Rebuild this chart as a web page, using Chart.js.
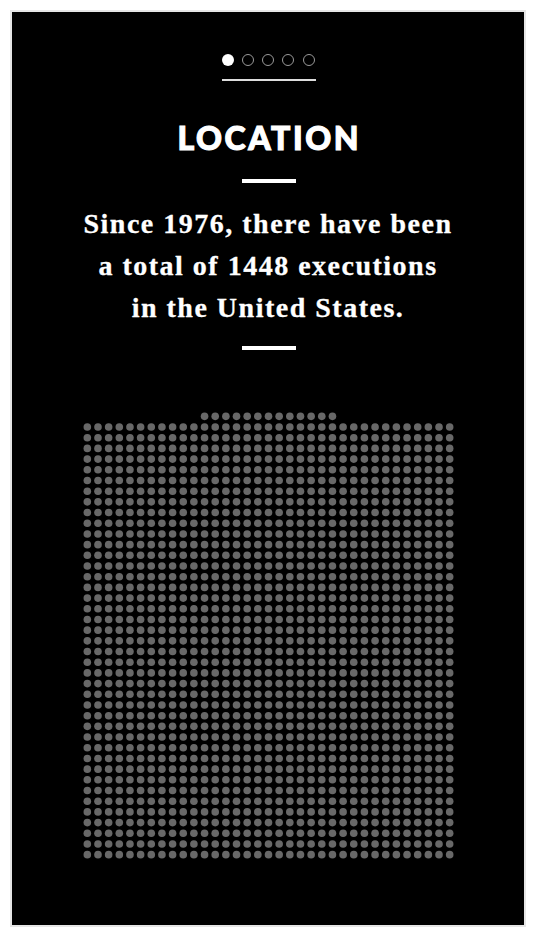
<!DOCTYPE html>
<html>
<head>
<meta charset="utf-8">
<script src="https://cdn.jsdelivr.net/npm/chart.js@4/dist/chart.umd.min.js"></script>
<style>
  html, body { margin: 0; padding: 0; background: #fff; width: 536px; height: 938px; overflow: hidden; }
  #panel { position: absolute; left: 10px; top: 10px; width: 512px; height: 913px; background: #000; border: 2px solid #e6e6e6; }
  .pager { position: absolute; top: 54px; left: 0; width: 536px; height: 12px; }
  .pd { position: absolute; top: 0; width: 12px; height: 12px; border-radius: 50%; box-sizing: border-box; }
  .pd.on { background: #fff; }
  .pd.off { border: 1.5px solid #9a9a9a; }
  .uline { position: absolute; left: 222px; top: 79px; width: 94px; height: 1.5px; background: #ddd; }
  .title { position: absolute; left: 0; width: 536px; top: 113px; text-align: center; color: #fff;
           font-family: Lato, "Open Sans", sans-serif; font-weight: 900; font-size: 32px; letter-spacing: 2.6px; text-indent: 2.6px; line-height: 50px;
           -webkit-text-stroke: 1.1px #fff; }
  .rule { position: absolute; left: 242px; width: 54px; height: 4px; background: #fff; }
  .lede { position: absolute; left: 0; width: 536px; top: 203px; text-align: center; color: #fff;
          font-family: "Liberation Serif", "DejaVu Serif", serif; font-weight: bold; font-size: 28px; letter-spacing: 1.5px; line-height: 42px;
          -webkit-text-stroke: 0.3px #fff; }
  #wrap { position: absolute; left: 82px; top: 411px; width: 373px; height: 449px; }
</style>
</head>
<body>
<div id="panel"></div>
<div class="pager">
  <div class="pd on" style="left:222px"></div>
  <div class="pd off" style="left:242px"></div>
  <div class="pd off" style="left:262px"></div>
  <div class="pd off" style="left:282px"></div>
  <div class="pd off" style="left:303px"></div>
</div>
<div class="uline"></div>
<div class="title">LOCATION</div>
<div class="rule" style="top:179px"></div>
<div class="lede">Since 1976, there have been<br>a total of 1448 executions<br>in the United States.</div>
<div class="rule" style="top:346px"></div>
<div id="wrap"><canvas id="c" width="373" height="449"></canvas></div>
<script>
// Data: one dot per execution since 1976
const categories = ["Executions"];
const executionTotals = [1448];
const dotsPerRow = [35];

// Build unit-chart points: full rows from the bottom, remainder centred on top
const total = executionTotals[0];
const cols = dotsPerRow[0];
const fullRows = Math.floor(total / cols);
const remainder = total - fullRows * cols;
const rows = fullRows + (remainder > 0 ? 1 : 0);
const points = [];
for (let r = 0; r < fullRows; r++) {
  for (let c = 0; c < cols; c++) points.push({ x: c, y: rows - 1 - r });
}
const start = Math.floor((cols - remainder) / 2);
for (let c = 0; c < remainder; c++) points.push({ x: start + c, y: 0 });

new Chart(document.getElementById('c'), {
  type: 'scatter',
  data: {
    datasets: [{
      label: categories[0],
      data: points,
      pointRadius: 3.8,
      pointHoverRadius: 3.8,
      pointBackgroundColor: '#686868',
      pointBorderWidth: 0,
      clip: false
    }]
  },
  options: {
    responsive: false,
    animation: false,
    devicePixelRatio: 1,
    layout: { padding: 0, autoPadding: false },
    plugins: { legend: { display: false }, tooltip: { enabled: false } },
    events: [],
    scales: {
      x: { type: 'linear', display: false, min: -0.5, max: cols - 0.5 },
      y: { type: 'linear', display: false, reverse: true, min: -0.5, max: rows - 0.5 }
    }
  }
});
</script>
</body>
</html>
